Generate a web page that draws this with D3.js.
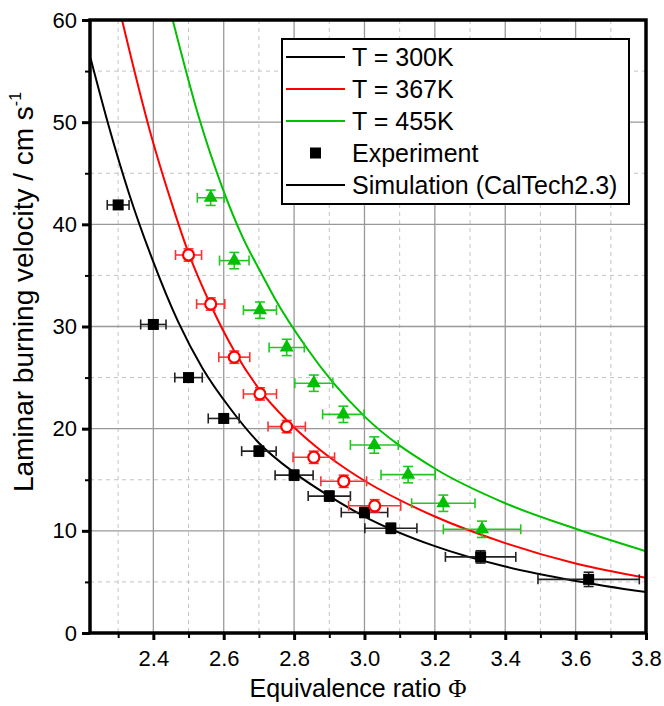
<!DOCTYPE html>
<html>
<head>
<meta charset="utf-8">
<script src="https://cdn.jsdelivr.net/npm/d3@7"></script>
<style>
  body { margin: 0; background: #fff; }
  svg text { font-family: "Liberation Sans", Arial, sans-serif; fill: #000; }
</style>
</head>
<body>
<svg id="chart" width="664" height="706"></svg>
<script>
// Simulation curves (phi, velocity)
var sim300 = [[2.222,56.2],[2.275,49.4],[2.331,43.0],[2.398,36.5],[2.47,30.5],[2.54,25.9],
  [2.618,22.0],[2.7,18.6],[2.8,15.7],[2.9,13.4],[3.0,11.4],[3.2,8.5],[3.4,6.5],[3.6,5.1],[3.8,4.0]];
var sim367 = [[2.311,60.0],[2.393,48.8],[2.45,42.3],[2.5,37.2],[2.563,32.1],[2.63,27.6],
  [2.7,23.9],[2.78,20.8],[2.86,18.3],[2.95,16.0],[3.0,14.9],[3.2,11.4],[3.4,8.8],[3.6,6.8],[3.8,5.4]];
var sim455 = [[2.455,60.0],[2.53,50.4],[2.597,43.5],[2.653,38.8],[2.71,35.0],[2.746,32.7],
  [2.836,27.9],[2.911,24.5],[3.0,21.2],[3.2,16.1],[3.4,12.7],[3.6,10.2],[3.8,8.0]];

// Experiments: phi, velocity, phi error, velocity error
var exp300 = [[2.30,41.9,0.031,0.4],[2.40,30.2,0.036,0.4],[2.50,25.0,0.039,0.4],[2.60,21.0,0.044,0.4],
  [2.70,17.8,0.049,0.5],[2.80,15.45,0.054,0.5],[2.90,13.4,0.06,0.5],[3.00,11.8,0.066,0.5],
  [3.075,10.25,0.074,0.5],[3.33,7.45,0.10,0.6],[3.637,5.25,0.144,0.7]];
var exp367 = [[2.50,37.0,0.037,0.6],[2.563,32.2,0.040,0.6],[2.63,27.0,0.044,0.6],[2.703,23.4,0.047,0.6],
  [2.779,20.2,0.053,0.6],[2.856,17.2,0.059,0.6],[2.941,14.85,0.065,0.6],[3.029,12.45,0.074,0.6]];
var exp455 = [[2.563,42.6,0.038,0.75],[2.63,36.45,0.042,0.8],[2.703,31.6,0.047,0.8],[2.779,27.95,0.05,0.8],
  [2.856,24.45,0.054,0.8],[2.94,21.4,0.059,0.8],[3.028,18.4,0.068,0.8],[3.124,15.5,0.077,0.8],
  [3.224,12.7,0.09,0.8],[3.334,10.15,0.11,0.8]];

var xTicks = [2.4, 2.6, 2.8, 3.0, 3.2, 3.4, 3.6, 3.8];
var xMinor = [2.3, 2.5, 2.7, 2.9, 3.1, 3.3, 3.5, 3.7];
var yTicks = [0, 10, 20, 30, 40, 50, 60];
var yMinor = [5, 15, 25, 35, 45, 55];
var legendLabels = ["T = 300K", "T = 367K", "T = 455K", "Experiment", "Simulation (CalTech2.3)"];

var BLACK = "#000", RED = "#ff0000", GREEN = "#00c000";

var svg = d3.select("#chart");
var pL = 90, pR = 646, pT = 20, pB = 633;

var x = d3.scaleLinear().domain([2.22, 3.8]).range([pL, pR]);
var y = d3.scaleLinear().domain([0, 60]).range([pB, pT]);

svg.append("defs").append("clipPath").attr("id", "clip")
  .append("rect").attr("x", pL).attr("y", pT).attr("width", pR - pL).attr("height", pB - pT);

// grid
var grid = svg.append("g");
grid.selectAll(".xm").data(xMinor).enter().append("line")
  .attr("x1", d => x(d)).attr("x2", d => x(d)).attr("y1", pT).attr("y2", pB)
  .attr("stroke", "#c4c4c4").attr("stroke-dasharray", "4,4");
grid.selectAll(".ym").data(yMinor).enter().append("line")
  .attr("y1", d => y(d)).attr("y2", d => y(d)).attr("x1", pL).attr("x2", pR)
  .attr("stroke", "#c4c4c4").attr("stroke-dasharray", "4,4");
grid.selectAll(".xg").data(xTicks.slice(0, -1)).enter().append("line")
  .attr("x1", d => x(d)).attr("x2", d => x(d)).attr("y1", pT).attr("y2", pB)
  .attr("stroke", "#999").attr("stroke-width", 1.3);
grid.selectAll(".yg").data(yTicks.slice(1, -1)).enter().append("line")
  .attr("y1", d => y(d)).attr("y2", d => y(d)).attr("x1", pL).attr("x2", pR)
  .attr("stroke", "#999").attr("stroke-width", 1.3);

// curves
var line = d3.line().x(d => x(d[0])).y(d => y(d[1])).curve(d3.curveMonotoneX);
var curves = svg.append("g").attr("clip-path", "url(#clip)");
[[sim300, BLACK], [sim367, RED], [sim455, GREEN]].forEach(function(c) {
  curves.append("path").datum(c[0]).attr("d", line)
    .attr("fill", "none").attr("stroke", c[1]).attr("stroke-width", 2);
});

// error bars + markers
function drawSeries(data, color, barColor, kind) {
  var g = svg.append("g");
  var cap = 5;
  data.forEach(function(d) {
    var cx = x(d[0]), cy = y(d[1]);
    var x0 = x(d[0] - d[2]), x1 = x(d[0] + d[2]);
    var y0 = y(d[1] - d[3]), y1 = y(d[1] + d[3]);
    var e = g.append("g").attr("stroke", barColor).attr("stroke-width", 1.6);
    e.append("line").attr("x1", x0).attr("x2", x1).attr("y1", cy).attr("y2", cy);
    e.append("line").attr("x1", x0).attr("x2", x0).attr("y1", cy - cap).attr("y2", cy + cap);
    e.append("line").attr("x1", x1).attr("x2", x1).attr("y1", cy - cap).attr("y2", cy + cap);
    e.append("line").attr("x1", cx).attr("x2", cx).attr("y1", y0).attr("y2", y1);
    e.append("line").attr("x1", cx - cap).attr("x2", cx + cap).attr("y1", y0).attr("y2", y0);
    e.append("line").attr("x1", cx - cap).attr("x2", cx + cap).attr("y1", y1).attr("y2", y1);
  });
  data.forEach(function(d) {
    var cx = x(d[0]), cy = y(d[1]);
    if (kind === "square") {
      g.append("rect").attr("x", cx - 5.5).attr("y", cy - 5.5).attr("width", 11).attr("height", 11)
        .attr("fill", color);
    } else if (kind === "circle") {
      g.append("circle").attr("cx", cx).attr("cy", cy).attr("r", 5.5)
        .attr("fill", "#fff").attr("stroke", color).attr("stroke-width", 2.2);
    } else {
      g.append("path").attr("d", d3.symbol().type(d3.symbolTriangle).size(85)())
        .attr("transform", "translate(" + cx + "," + cy + ")").attr("fill", color);
    }
  });
}
drawSeries(exp300, BLACK, "#222", "square");
drawSeries(exp367, RED, "#ff3030", "circle");
drawSeries(exp455, GREEN, "#20c820", "triangle");

// axes
var xAxis = svg.append("g").attr("transform", "translate(0," + pB + ")")
  .call(d3.axisBottom(x).tickValues(xTicks).tickSize(7).tickFormat(d3.format(".1f")));
xAxis.select(".domain").remove();
xAxis.selectAll(".tick line").attr("stroke-width", 3);
xAxis.selectAll(".tick text").attr("font-size", 22).attr("dy", "1.05em")
  .style("font-family", "'Liberation Sans', Arial, sans-serif");
svg.append("g").attr("transform", "translate(0," + pB + ")")
  .call(d3.axisBottom(x).tickValues(xMinor).tickSize(5).tickFormat(""))
  .call(g => g.select(".domain").remove())
  .selectAll(".tick line").attr("stroke-width", 2);

var yAxis = svg.append("g").attr("transform", "translate(" + pL + ",0)")
  .call(d3.axisLeft(y).tickValues(yTicks).tickSize(8).tickPadding(5));
yAxis.select(".domain").remove();
yAxis.selectAll(".tick line").attr("stroke-width", 3);
yAxis.selectAll(".tick text").attr("font-size", 22)
  .style("font-family", "'Liberation Sans', Arial, sans-serif");
svg.append("g").attr("transform", "translate(" + pL + ",0)")
  .call(d3.axisLeft(y).tickValues(yMinor).tickSize(5).tickFormat(""))
  .call(g => g.select(".domain").remove())
  .selectAll(".tick line").attr("stroke-width", 2);

// frame
svg.append("rect").attr("x", pL).attr("y", pT).attr("width", pR - pL).attr("height", pB - pT)
  .attr("fill", "none").attr("stroke", "#000").attr("stroke-width", 3.5);

// axis titles
var xt = svg.append("text").attr("x", 358).attr("y", 697).attr("text-anchor", "middle")
  .attr("font-size", 25);
xt.append("tspan").text("Equivalence ratio ");
xt.append("tspan").style("font-family", "'Liberation Serif', 'Times New Roman', serif").text("\u03A6");
var yt = svg.append("text").attr("transform", "translate(33,292) rotate(-90)")
  .attr("text-anchor", "middle").attr("font-size", 28);
yt.append("tspan").text("Laminar burning velocity / cm s");
yt.append("tspan").attr("font-size", 16).attr("dy", -12).text("-1");

// legend
var lg = svg.append("g");
lg.append("rect").attr("x", 282).attr("y", 39).attr("width", 347).attr("height", 165)
  .attr("fill", "#fff").attr("stroke", "#000").attr("stroke-width", 2);
var rowY = d3.scalePoint().domain(legendLabels).range([57, 185]);
var legendColors = [BLACK, RED, GREEN, null, BLACK];
legendLabels.forEach(function(lab, i) {
  var ry = rowY(lab);
  if (legendColors[i]) {
    lg.append("line").attr("x1", 286).attr("x2", 345).attr("y1", ry).attr("y2", ry)
      .attr("stroke", legendColors[i]).attr("stroke-width", 2);
  } else {
    lg.append("rect").attr("x", 310).attr("y", ry - 5.5).attr("width", 11).attr("height", 11).attr("fill", BLACK);
  }
  lg.append("text").attr("x", 352).attr("y", ry).attr("dy", "0.36em").attr("font-size", 25).text(lab);
});
</script>
</body>
</html>
